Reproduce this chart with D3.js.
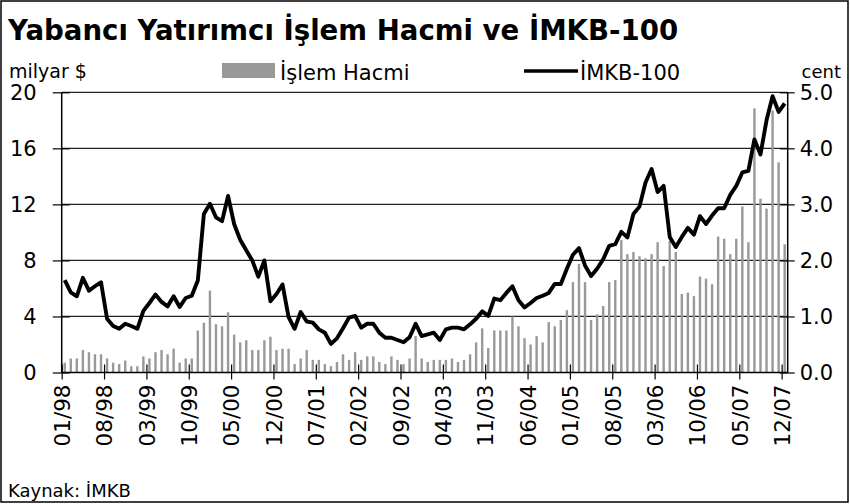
<!DOCTYPE html>
<html>
<head>
<meta charset="utf-8">
<script src="https://cdn.jsdelivr.net/npm/d3@7"></script>
<style>
  body { margin: 0; background: #fff; }
  svg text { font-family: "DejaVu Sans", Verdana, sans-serif; fill: #000; }
</style>
</head>
<body>
<div id="chart"></div>
<script>
// monthly categories 01/98 .. 12/07
const months = d3.timeMonth.range(new Date(1998, 0, 1), new Date(2008, 0, 1));

const tickLabels = ["01/98", "08/98", "03/99", "10/99", "05/00", "12/00", "07/01", "02/02", "09/02",
    "04/03", "11/03", "06/04", "01/05", "08/05", "03/06", "10/06", "05/07", "12/07"];

// Yabancı yatırımcı işlem hacmi (milyar $)
const islemHacmi = [
    0.7, 1.0, 1.0, 1.6, 1.45, 1.3, 1.3, 1.0, 0.7, 0.6, 0.85, 0.45,
    0.45, 1.15, 1.0, 1.45, 1.6, 1.3, 1.7, 0.7, 1.0, 1.0, 3.0, 3.55,
    5.85, 3.45, 3.3, 4.3, 2.7, 2.15, 2.3, 1.6, 1.6, 2.3, 2.55, 1.6,
    1.7, 1.7, 0.6, 1.0, 1.6, 0.9, 0.9, 0.6, 0.45, 0.75, 1.3, 0.9,
    1.45, 0.9, 1.15, 1.15, 0.75, 0.6, 1.15, 0.9, 0.6, 1.0, 2.6, 1.0,
    0.75, 0.9, 0.9, 0.9, 1.0, 0.75, 0.9, 1.3, 2.15, 3.15, 1.75, 3.0,
    3.0, 3.0, 4.0, 3.3, 2.45, 2.0, 2.6, 2.15, 3.6, 3.3, 3.75, 4.45,
    6.45, 7.75, 6.45, 3.75, 4.15, 4.75, 6.45, 6.6, 9.45, 8.45, 8.6, 8.3,
    8.15, 8.45, 9.3, 7.6, 9.4, 8.6, 5.6, 5.7, 5.45, 6.85, 6.7, 6.3,
    9.7, 9.55, 8.45, 9.55, 11.85, 9.3, 18.85, 12.4, 11.7, 18.7, 15.0, 9.15
];

// İMKB-100 (cent)
const imkb100 = [
    1.65, 1.43, 1.36, 1.69, 1.46, 1.54, 1.61, 0.96, 0.83, 0.78, 0.87, 0.83,
    0.78, 1.10, 1.24, 1.39, 1.26, 1.18, 1.36, 1.17, 1.33, 1.37, 1.64, 2.83,
    3.01, 2.77, 2.70, 3.15, 2.65, 2.37, 2.18, 2.00, 1.71, 2.00, 1.27, 1.40,
    1.57, 0.99, 0.78, 1.08, 0.91, 0.89, 0.77, 0.71, 0.51, 0.61, 0.79, 0.98,
    1.01, 0.80, 0.87, 0.87, 0.71, 0.62, 0.62, 0.58, 0.54, 0.63, 0.87, 0.65,
    0.68, 0.71, 0.58, 0.77, 0.80, 0.80, 0.77, 0.86, 0.96, 1.09, 1.01, 1.32,
    1.29, 1.42, 1.54, 1.29, 1.16, 1.24, 1.33, 1.37, 1.42, 1.58, 1.58, 1.85,
    2.10, 2.22, 1.91, 1.72, 1.85, 2.02, 2.26, 2.29, 2.51, 2.41, 2.83, 2.96,
    3.39, 3.63, 3.22, 3.33, 2.42, 2.24, 2.42, 2.58, 2.46, 2.79, 2.65, 2.80,
    2.93, 2.93, 3.17, 3.33, 3.57, 3.60, 4.16, 3.89, 4.50, 4.93, 4.65, 4.80
];

const leftTicks = [0, 4, 8, 12, 16, 20];
const rightTicks = [0, 1, 2, 3, 4, 5];

const W = 850, H = 504;
const plot = {left: 61.7, right: 787.7, top: 92.3, bottom: 372.5};

const svg = d3.select("#chart").append("svg")
    .attr("width", W)
    .attr("height", H);

// outer frame
svg.append("rect")
    .attr("x", 1).attr("y", 1)
    .attr("width", W - 3).attr("height", H - 3)
    .attr("fill", "none")
    .attr("stroke", "#000")
    .attr("stroke-width", 1.5);

const data = months.map((m, i) => ({date: m, idx: i, vol: islemHacmi[i], idx100: imkb100[i]}));

const x = d3.scaleBand()
    .domain(data.map(d => d.idx))
    .range([plot.left, plot.right])
    .padding(0);

// index scale used for the category ticks (ticks sit between categories)
const xTick = d3.scaleLinear()
    .domain([0, months.length])
    .range([plot.left, plot.right]);

const yLeft = d3.scaleLinear().domain([0, 20]).range([plot.bottom, plot.top]);
const yRight = d3.scaleLinear().domain([0, 5]).range([plot.bottom, plot.top]);

// gridlines
svg.append("g")
    .selectAll("line")
    .data(leftTicks.slice(1))
    .enter()
    .append("line")
    .attr("x1", plot.left).attr("x2", plot.right)
    .attr("y1", d => yLeft(d)).attr("y2", d => yLeft(d))
    .attr("stroke", "#222")
    .attr("stroke-width", 1.2);

// bars
const barW = 2.4;
svg.selectAll(".bar")
    .data(data)
    .enter()
    .append("rect")
    .attr("class", "bar")
    .attr("x", d => x(d.idx) + x.bandwidth() / 2 - barW / 2)
    .attr("y", d => yLeft(d.vol))
    .attr("width", barW)
    .attr("height", d => plot.bottom - yLeft(d.vol))
    .attr("fill", "#999999");

// line
const line = d3.line()
    .x(d => x(d.idx) + x.bandwidth() / 2)
    .y(d => yRight(d.idx100));

svg.append("path")
    .datum(data)
    .attr("d", line)
    .attr("fill", "none")
    .attr("stroke", "#000")
    .attr("stroke-width", 3.9)
    .attr("stroke-linejoin", "round");

// left axis
const axL = svg.append("g")
    .attr("transform", `translate(${plot.left},0)`)
    .call(d3.axisLeft(yLeft).tickValues(leftTicks).tickSize(9).tickPadding(16).tickFormat(d3.format("d")));
axL.select(".domain").attr("stroke", "#000").attr("stroke-width", 1.5).attr("d", `M0,${plot.top}V${plot.bottom}`);
axL.selectAll(".tick line").attr("x2", -9).attr("x1", 8).attr("stroke", "#000").attr("stroke-width", 1.2);
axL.selectAll("text").attr("font-size", 21).attr("font-family", "DejaVu Sans");

// right axis
const axR = svg.append("g")
    .attr("transform", `translate(${plot.right},0)`)
    .call(d3.axisRight(yRight).tickValues(rightTicks).tickSize(7).tickPadding(5).tickFormat(d3.format(".1f")));
axR.select(".domain").attr("stroke", "#000").attr("stroke-width", 1.5).attr("d", `M0,${plot.top}V${plot.bottom}`);
axR.selectAll(".tick line").attr("x1", -8).attr("x2", 7).attr("stroke", "#000").attr("stroke-width", 1.2);
axR.selectAll("text").attr("font-size", 21).attr("font-family", "DejaVu Sans");

// bottom axis
const tickIdx = d3.range(0, months.length, 7);
const axB = svg.append("g")
    .attr("transform", `translate(0,${plot.bottom})`)
    .call(d3.axisBottom(xTick).tickValues(tickIdx).tickSize(7).tickFormat((d, i) => tickLabels[i]));
axB.select(".domain").attr("stroke", "#000").attr("stroke-width", 1.5).attr("d", `M${plot.left},0H${plot.right}`);
axB.selectAll(".tick line").attr("y1", -8).attr("y2", 7).attr("stroke", "#000").attr("stroke-width", 1.2);
axB.selectAll(".tick text")
    .attr("font-size", 21.5)
    .attr("font-family", "DejaVu Sans")
    .attr("text-anchor", "end")
    .attr("transform", "rotate(-90)")
    .attr("x", -12)
    .attr("y", 0)
    .attr("dy", "0.36em");

// title and labels
svg.append("text")
    .attr("x", 8).attr("y", 40)
    .attr("font-size", 27.6)
    .attr("font-weight", "bold")
    .text("Yabancı Yatırımcı İşlem Hacmi ve İMKB-100");

svg.append("text")
    .attr("x", 9).attr("y", 78)
    .attr("font-size", 19)
    .text("milyar $");

svg.append("text")
    .attr("x", 841).attr("y", 78)
    .attr("text-anchor", "end")
    .attr("font-size", 18)
    .text("cent");

// legend
svg.append("rect")
    .attr("x", 222).attr("y", 63)
    .attr("width", 53).attr("height", 15)
    .attr("fill", "#999999");
svg.append("text")
    .attr("x", 280).attr("y", 80)
    .attr("font-size", 21)
    .text("İşlem Hacmi");

svg.append("line")
    .attr("x1", 524).attr("x2", 578)
    .attr("y1", 71).attr("y2", 71)
    .attr("stroke", "#000")
    .attr("stroke-width", 3.6);
svg.append("text")
    .attr("x", 580).attr("y", 80)
    .attr("font-size", 21)
    .text("İMKB-100");

svg.append("text")
    .attr("x", 8).attr("y", 497)
    .attr("font-size", 18)
    .text("Kaynak: İMKB");
</script>
</body>
</html>
